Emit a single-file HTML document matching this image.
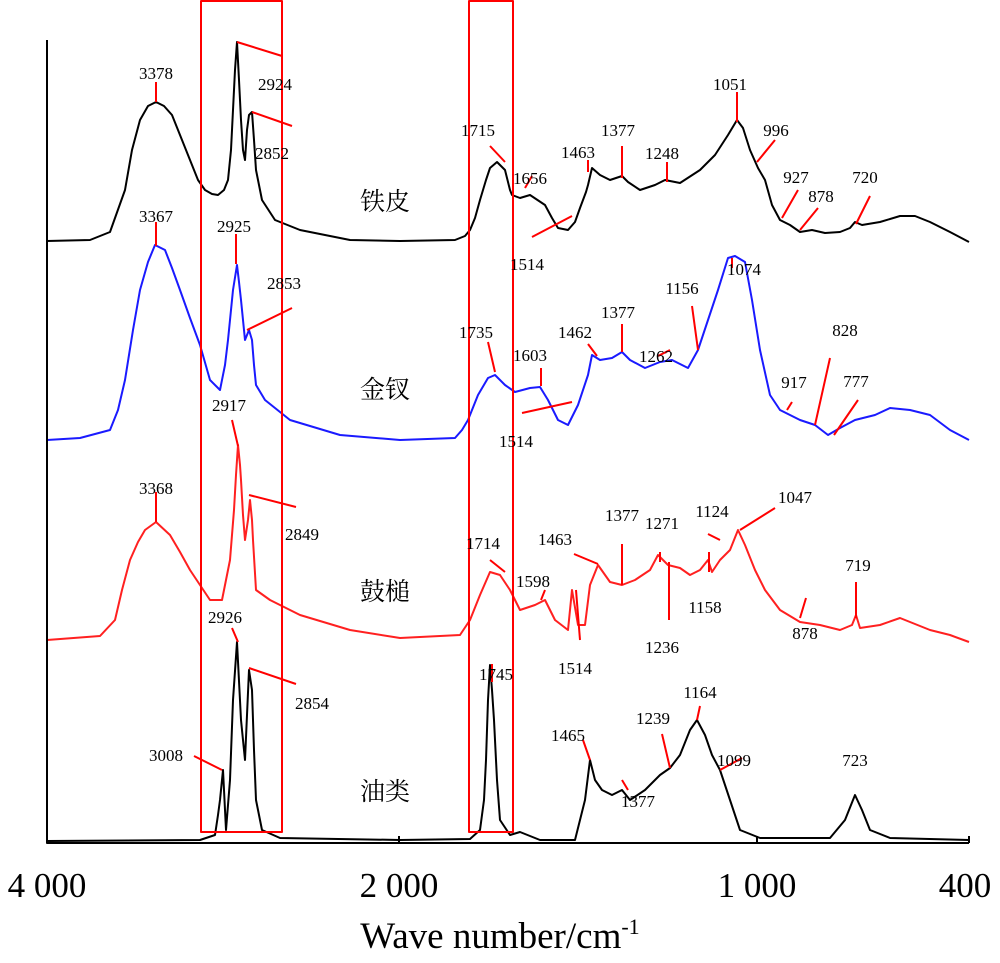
<!DOCTYPE html>
<html><head><meta charset="utf-8"><style>
html,body{margin:0;padding:0;background:#fff}
svg{display:block}
text{font-family:"Liberation Serif","Noto Serif CJK SC",serif;fill:#000}
.n{font-size:17px;text-anchor:middle}
.c{font-size:25px}
</style></head><body>
<svg width="1000" height="963" viewBox="0 0 1000 963" xmlns="http://www.w3.org/2000/svg">
<g fill="none" stroke-linejoin="round">
<polyline stroke="#000" stroke-width="2" points="47,241 90,240 110,232 125,190 132,150 140,120 148,106 156,102 164,106 172,115 180,135 190,160 198,180 205,190 212,194 218,195 224,190 228,180 231,150 233,110 235,70 237,42 239,80 241,120 243,150 245,160 247,130 249,115 252,112 254,140 256,170 262,200 275,220 300,230 350,240 400,241 455,240 465,236 470,230 475,218 480,200 486,180 490,168 497,162 505,170 510,190 512,195 520,198 530,195 545,205 552,218 558,228 568,230 575,222 580,208 586,192 588,185 592,168 600,175 610,180 622,176 628,182 640,190 655,185 665,180 680,183 700,170 715,155 728,135 737,120 743,128 750,150 758,168 765,180 772,205 780,220 790,225 800,232 812,230 825,233 840,232 850,228 855,222 862,225 880,222 900,216 915,216 930,222 950,232 969,242"/>
<polyline stroke="#1a1aff" stroke-width="2" points="47,440 80,438 110,430 118,410 125,380 133,330 140,290 148,262 155,245 165,250 172,268 180,290 190,318 200,345 210,380 220,390 225,365 228,340 233,290 237,265 239,282 241,300 245,340 249,330 252,340 254,365 256,385 265,400 290,420 340,435 400,440 455,438 462,430 468,420 478,395 488,378 495,375 505,385 515,392 530,388 540,387 548,400 558,420 568,425 578,405 588,375 592,355 600,360 612,358 622,352 630,360 645,368 660,362 672,360 688,368 698,350 708,320 718,290 728,258 735,256 745,262 752,300 760,350 770,395 780,410 790,415 800,420 815,425 828,435 840,428 855,420 875,415 890,408 910,410 930,415 950,430 969,440"/>
<polyline stroke="#ff2020" stroke-width="2" points="47,640 100,636 115,620 122,590 130,560 138,542 145,530 156,522 170,535 180,552 190,570 200,585 210,600 222,600 226,580 230,560 234,510 236,475 238,445 240,465 241,480 243,515 245,540 248,520 250,500 252,520 253,540 256,590 270,600 300,615 350,630 400,638 460,635 470,620 480,595 490,572 500,575 510,590 520,610 535,605 545,600 555,620 568,630 572,590 578,625 585,625 590,585 598,565 610,582 622,585 635,580 650,570 658,555 668,565 680,568 690,575 700,570 708,560 712,572 720,560 730,550 738,530 745,545 755,570 765,590 780,610 800,622 820,625 840,630 852,625 856,615 860,628 880,625 900,618 930,630 950,635 969,642"/>
<polyline stroke="#000" stroke-width="2" points="47,841 200,840 215,835 218,815 220,800 223,770 226,830 230,780 233,700 237,642 241,720 245,760 249,670 252,690 254,750 256,800 262,830 280,838 400,840 470,839 480,830 484,800 486,760 488,700 490,665 492,690 494,720 497,780 500,820 510,835 520,832 540,840 575,840 580,820 585,800 590,760 595,780 602,790 612,795 622,790 630,800 645,790 660,775 670,768 680,755 690,730 697,720 705,735 712,755 720,770 730,800 740,830 760,838 830,838 845,820 855,795 862,810 870,830 890,838 969,840"/>
<rect x="201" y="1" width="81" height="831" stroke="#ff0000" stroke-width="2"/>
<rect x="469" y="1" width="44" height="831" stroke="#ff0000" stroke-width="2"/>
<g stroke="#ff0000" stroke-width="2">
<path d="M156,82V102 M237,42L282,56 M252,112L292,126 M490,146L505,162 M525,188L532,176 M532,237L572,216 M588,160V172 M622,146V178 M667,162V182 M737,92V122 M757,162L775,140 M782,218L798,190 M800,230L818,208 M856,224L870,196"/>
<path d="M156,222V246 M236,234V264 M247,330L292,308 M488,342L495,372 M541,368V386 M522,413L572,402 M588,344L597,356 M622,324V352 M658,356L670,350 M698,350L692,306 M732,258V268 M787,410L792,402 M815,425L830,358 M834,435L858,400"/>
<path d="M156,492V522 M232,420L238,446 M249,495L296,507 M490,560L505,572 M545,590L541,600 M576,590L580,640 M574,554L598,564 M622,544V585 M660,552V562 M669,562V620 M709,552V572 M708,534L720,540 M740,530L775,508 M800,618L806,598 M856,582V618"/>
<path d="M232,628L238,642 M249,668L296,684 M194,756L222,770 M492,682V664 M583,740L590,760 M622,780L628,790 M662,734L670,768 M700,706L697,720 M720,770L742,758"/>
</g>
<path d="M47,40V843H969" stroke="#000" stroke-width="2"/>
<path d="M47,843V836 M399,843V836 M757,843V836 M969,843V836" stroke="#000" stroke-width="2"/>
</g>
<g class="n">
<text x="156" y="79">3378</text><text x="275" y="90">2924</text><text x="272" y="159">2852</text>
<text x="478" y="136">1715</text><text x="530" y="184">1656</text><text x="527" y="270">1514</text>
<text x="578" y="158">1463</text><text x="618" y="136">1377</text><text x="662" y="159">1248</text>
<text x="730" y="90">1051</text><text x="776" y="136">996</text><text x="796" y="183">927</text><text x="821" y="202">878</text><text x="865" y="183">720</text>
<text x="156" y="222">3367</text><text x="234" y="232">2925</text><text x="284" y="289">2853</text>
<text x="476" y="338">1735</text><text x="530" y="361">1603</text><text x="516" y="447">1514</text>
<text x="575" y="338">1462</text><text x="618" y="318">1377</text><text x="656" y="362">1262</text>
<text x="682" y="294">1156</text><text x="744" y="275">1074</text><text x="794" y="388">917</text><text x="845" y="336">828</text><text x="856" y="387">777</text>
<text x="156" y="494">3368</text><text x="229" y="411">2917</text><text x="302" y="540">2849</text>
<text x="483" y="549">1714</text><text x="533" y="587">1598</text><text x="575" y="674">1514</text>
<text x="555" y="545">1463</text><text x="622" y="521">1377</text><text x="662" y="529">1271</text>
<text x="705" y="613">1158</text><text x="662" y="653">1236</text><text x="712" y="517">1124</text><text x="795" y="503">1047</text>
<text x="805" y="639">878</text><text x="858" y="571">719</text>
<text x="225" y="623">2926</text><text x="312" y="709">2854</text><text x="166" y="761">3008</text>
<text x="496" y="680">1745</text><text x="568" y="741">1465</text><text x="638" y="807">1377</text>
<text x="653" y="724">1239</text><text x="700" y="698">1164</text><text x="734" y="766">1099</text><text x="855" y="766">723</text>
</g>
<text class="c" x="360" y="210">铁皮</text>
<text class="c" x="360" y="398">金钗</text>
<text class="c" x="360" y="600">鼓槌</text>
<text class="c" x="360" y="800">油类</text>
<g style="font-size:35px" text-anchor="middle">
<text x="47" y="897">4 000</text><text x="399" y="897">2 000</text><text x="757" y="897">1 000</text><text x="965" y="897">400</text>
</g>
<text x="500" y="948" text-anchor="middle" style="font-size:37px">Wave number/cm<tspan dy="-14" style="font-size:22px">-1</tspan></text>
</svg>
</body></html>
